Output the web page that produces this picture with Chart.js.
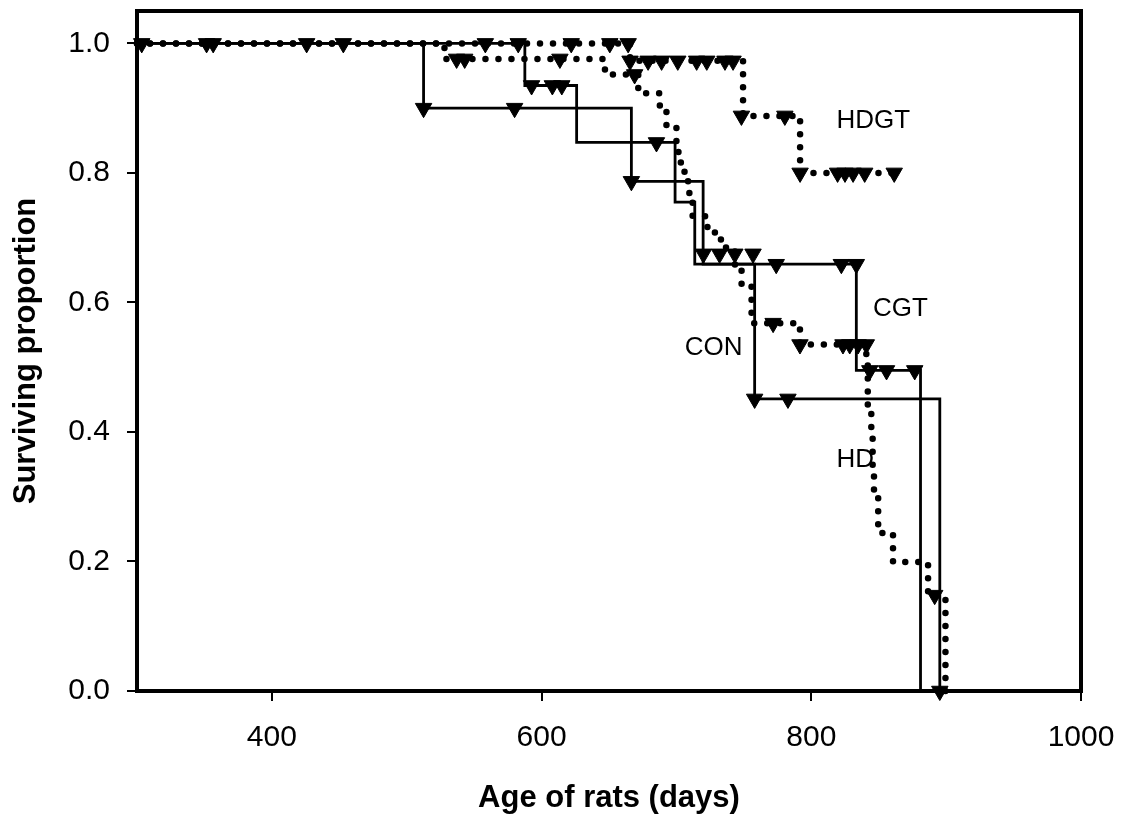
<!DOCTYPE html>
<html>
<head>
<meta charset="utf-8">
<script src="https://cdn.jsdelivr.net/npm/chart.js@4.4.1/dist/chart.umd.min.js"></script>
<style>
  html, body { margin: 0; padding: 0; background: #fff; }
</style>
</head>
<body>
<canvas id="survival" width="1125" height="814"></canvas>
<script>
// Kaplan-Meier survival of the four rat groups (age in days)
const xTicks = [400, 600, 800, 1000]
const yTicks = [0, 0.2, 0.4, 0.6, 0.8, 1.0]

// CON - solid
const conTime = [300, 587.6, 626, 699, 713.6, 758, 895.3]
const conSurv = [1.0, 0.935, 0.847, 0.755, 0.659, 0.451, 0.0]
const conCensTime = [582.7, 592.6, 608, 615, 685.2, 758, 782.7, 895.3]
const conCensSurv = [1.0, 0.935, 0.935, 0.935, 0.847, 0.451, 0.451, 0.0]

// CGT - solid
const cgtTime = [300, 512.5, 666.6, 719.8, 833.4, 881]
const cgtSurv = [1.0, 0.90, 0.787, 0.659, 0.495, 0.0]
const cgtCensTime = [512.5, 580, 666.6, 774, 822.3, 833.4, 843.4, 855.8, 876.7]
const cgtCensSurv = [0.90, 0.90, 0.787, 0.659, 0.659, 0.659, 0.495, 0.495, 0.495]

// HDGT - dotted
const hdgtTime = [300, 665.6, 749.4, 791.7, 861.5]
const hdgtSurv = [1.0, 0.973, 0.888, 0.80, 0.80]
const hdgtCensTime = [303.5, 425.8, 558.3, 622, 650.6, 664.2, 665.6, 679, 689, 701, 715, 722.5, 736, 742,
  748.2, 780.4, 791.7, 819.5, 825, 831, 839.6, 861.5]
const hdgtCensSurv = [1.0, 1.0, 1.0, 1.0, 1.0, 1.0, 0.973, 0.973, 0.973, 0.973, 0.973, 0.973, 0.973, 0.973,
  0.888, 0.888, 0.80, 0.80, 0.80, 0.80, 0.80, 0.80]

// HD - dotted
const hdTime = [300, 528, 647, 671.7, 687.7, 692.6, 700, 701.5, 706, 709.6, 712, 723, 733, 743.4, 748.3,
  755.7, 791.6, 840.8, 841.9, 844.5, 845.5, 846.5, 849.6, 860.6, 886.6, 899.5]
const hdSurv = [1.0, 0.976, 0.952, 0.923, 0.898, 0.870, 0.844, 0.816, 0.787, 0.762, 0.733, 0.708, 0.685, 0.652, 0.625,
  0.568, 0.535, 0.514, 0.442, 0.395, 0.347, 0.298, 0.244, 0.199, 0.148, 0.0]
const hdCensTime = [351.6, 356.5, 453, 537, 543, 613.6, 669, 720, 732, 743.3, 756.8, 771.7, 791.6, 823.5, 828.5, 834.7, 840.8, 891.5]
const hdCensSurv = [1.0, 1.0, 1.0, 0.976, 0.976, 0.976, 0.952, 0.675, 0.675, 0.675, 0.675, 0.568, 0.535, 0.535, 0.535, 0.535, 0.535, 0.148]

const pts = (xs, ys) => xs.map((x, i) => ({ x: x, y: ys[i] }))

const FONT = "'Liberation Sans', Arial, sans-serif"

function curve(xs, ys, dotted) {
  return {
    data: pts(xs, ys),
    showLine: true,
    stepped: true,
    pointRadius: 0,
    borderColor: '#000',
    borderWidth: dotted ? 6.5 : 2.8,
    borderDash: dotted ? [0, 13] : [],
    borderCapStyle: dotted ? 'round' : 'butt',
    borderJoinStyle: 'miter',
    clip: false,
  }
}

function marks(xs, ys) {
  return {
    data: pts(xs, ys),
    showLine: false,
    pointStyle: 'triangle',
    rotation: 180,
    pointRadius: 9.5,
    pointBackgroundColor: '#000',
    pointBorderColor: '#000',
    pointBorderWidth: 1,
    clip: false,
  }
}

// box round the plot area
const frame = {
  id: 'frame',
  afterDatasetsDraw(chart) {
    const { ctx, chartArea: a } = chart
    ctx.save()
    ctx.lineWidth = 4
    ctx.strokeStyle = '#000'
    ctx.strokeRect(a.left, a.top, a.right - a.left, a.bottom - a.top)
    ctx.restore()
  },
}

// group names next to their curves
const groupLabels = {
  id: 'groupLabels',
  afterDatasetsDraw(chart) {
    const { ctx, scales: { x, y } } = chart
    const items = [
      ['HDGT', 818.7, 0.880],
      ['CGT', 845.8, 0.590],
      ['CON', 706.2, 0.530],
      ['HD', 818.7, 0.357],
    ]
    ctx.save()
    ctx.fillStyle = '#000'
    ctx.font = '26px ' + FONT
    ctx.textAlign = 'left'
    ctx.textBaseline = 'middle'
    items.forEach(([t, dx, dy]) => ctx.fillText(t, x.getPixelForValue(dx), y.getPixelForValue(dy)))
    ctx.restore()
  },
}

new Chart(document.getElementById('survival'), {
  type: 'scatter',
  data: {
    datasets: [
      curve(conTime, conSurv, false),
      marks(conCensTime, conCensSurv),
      curve(cgtTime, cgtSurv, false),
      marks(cgtCensTime, cgtCensSurv),
      curve(hdgtTime, hdgtSurv, true),
      marks(hdgtCensTime, hdgtCensSurv),
      curve(hdTime, hdSurv, true),
      marks(hdCensTime, hdCensSurv),
    ],
  },
  options: {
    responsive: false,
    animation: false,
    events: [],
    layout: { padding: { top: 11, right: 44, bottom: 0, left: 0 } },
    plugins: { legend: { display: false }, tooltip: { enabled: false } },
    scales: {
      x: {
        type: 'linear',
        min: 300,
        max: 1000,
        afterBuildTicks: (s) => { s.ticks = xTicks.map((v) => ({ value: v })) },
        afterFit: (s) => { s.height = 123; s.paddingLeft = 0; s.paddingRight = 0 },
        border: { display: false },
        grid: { drawOnChartArea: false, drawTicks: true, tickLength: 10, color: '#000', lineWidth: 2 },
        ticks: {
          color: '#000',
          padding: 19,
          maxRotation: 0,
          font: { family: FONT, size: 30 },
          callback: (v) => String(v),
        },
        title: {
          display: true,
          text: 'Age of rats (days)',
          color: '#000',
          padding: { top: 0, bottom: -3 },
          font: { family: FONT, size: 31, weight: 'bold' },
        },
      },
      y: {
        type: 'linear',
        min: 0,
        max: 1.05,
        afterBuildTicks: (s) => { s.ticks = yTicks.map((v) => ({ value: v })) },
        afterFit: (s) => { s.width = 137; s.paddingTop = 0; s.paddingBottom = 0 },
        border: { display: false },
        grid: { drawOnChartArea: false, drawTicks: true, tickLength: 10, color: '#000', lineWidth: 2 },
        ticks: {
          color: '#000',
          padding: 17,
          font: { family: FONT, size: 30 },
          callback: (v) => Number(v).toFixed(1),
        },
        title: {
          display: true,
          text: 'Surviving proportion',
          color: '#000',
          padding: { top: 8, bottom: 0 },
          font: { family: FONT, size: 31, weight: 'bold' },
        },
      },
    },
  },
  plugins: [frame, groupLabels],
})
</script>
</body>
</html>
